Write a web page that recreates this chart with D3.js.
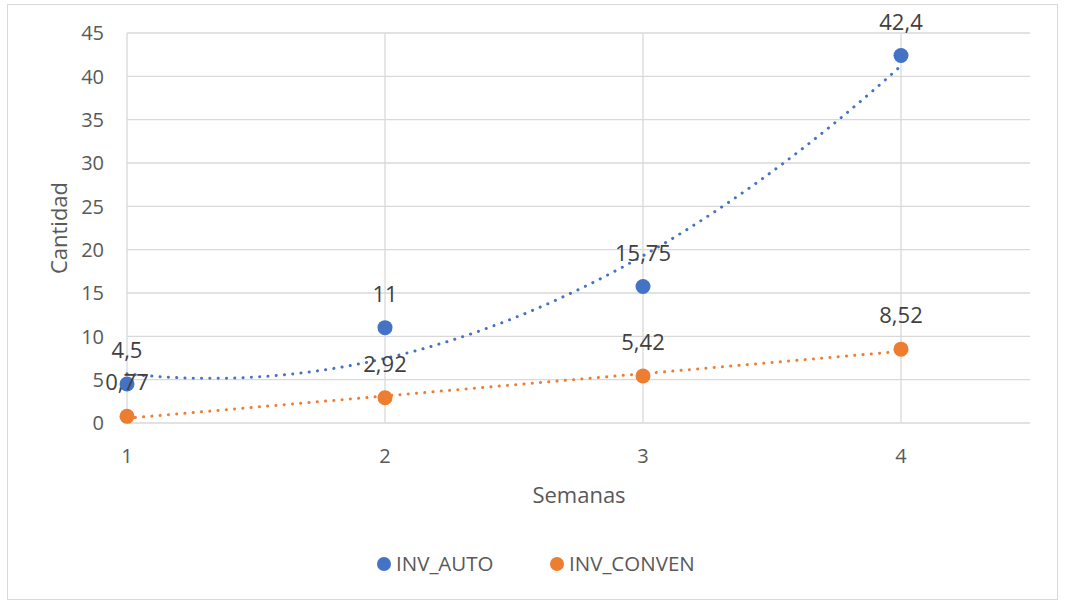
<!DOCTYPE html>
<html>
<head>
<meta charset="utf-8">
<script src="https://cdn.jsdelivr.net/npm/d3@7"></script>
<style>
  body { margin: 0; background: #fff; }
  svg text { font-family: "Open Sans", "Noto Sans", sans-serif; }
</style>
</head>
<body>
<div id="chart"></div>
<script>
const semanas = [1, 2, 3, 4];
const invAuto = [4.5, 11, 15.75, 42.4];
const invConven = [0.77, 2.92, 5.42, 8.52];
const seriesNames = ["INV_AUTO", "INV_CONVEN"];
const yTicks = [0, 5, 10, 15, 20, 25, 30, 35, 40, 45];
const xTicks = [1, 2, 3, 4];

const W = 1065, H = 601;
const margin = {top: 33, right: 35, bottom: 178, left: 127};

const svg = d3.select("#chart").append("svg")
    .attr("width", W)
    .attr("height", H);

// chart border
svg.append("rect")
    .attr("x", 7.5).attr("y", 4.5)
    .attr("width", 1050).attr("height", 595)
    .attr("fill", "#fff")
    .attr("stroke", "#d9d9d9");

const x = d3.scaleLinear().domain([1, 4.5]).range([margin.left, W - margin.right]);
const y = d3.scaleLinear().domain([0, 45]).range([H - margin.bottom, margin.top]);

const g = svg.append("g");

// horizontal gridlines
g.selectAll(".hgrid")
    .data(yTicks)
    .enter().append("line")
    .attr("x1", x(1)).attr("x2", x(4.5))
    .attr("y1", d => y(d)).attr("y2", d => y(d))
    .attr("stroke", "#d9d9d9")
    .attr("stroke-width", 1.3);

// vertical gridlines
g.selectAll(".vgrid")
    .data(xTicks)
    .enter().append("line")
    .attr("x1", d => x(d)).attr("x2", d => x(d))
    .attr("y1", y(0)).attr("y2", y(45))
    .attr("stroke", "#d9d9d9")
    .attr("stroke-width", 1.3);

// tick labels
g.selectAll(".ylab")
    .data(yTicks)
    .enter().append("text")
    .attr("x", 104)
    .attr("y", d => y(d))
    .attr("dy", "0.36em")
    .attr("text-anchor", "end")
    .attr("font-size", 20)
    .attr("fill", "#595959")
    .text(d => d);

g.selectAll(".xlab")
    .data(xTicks)
    .enter().append("text")
    .attr("x", d => x(d))
    .attr("y", 463)
    .attr("text-anchor", "middle")
    .attr("font-size", 20)
    .attr("fill", "#595959")
    .text(d => d);

// axis titles
svg.append("text")
    .attr("x", 579).attr("y", 503)
    .attr("text-anchor", "middle")
    .attr("font-size", 22)
    .attr("fill", "#595959")
    .text("Semanas");

svg.append("text")
    .attr("transform", "translate(67,228) rotate(-90)")
    .attr("text-anchor", "middle")
    .attr("font-size", 22)
    .attr("fill", "#595959")
    .text("Cantidad");

// least squares polynomial fit
function polyFit(xs, ys, order) {
  const n = order + 1;
  const A = [];
  for (let i = 0; i < n; i++) {
    A.push([]);
    for (let j = 0; j < n; j++) A[i].push(d3.sum(xs, xv => Math.pow(xv, i + j)));
    A[i].push(d3.sum(xs, (xv, k) => Math.pow(xv, i) * ys[k]));
  }
  for (let i = 0; i < n; i++) {
    for (let k = i + 1; k < n; k++) {
      const f = A[k][i] / A[i][i];
      for (let j = i; j <= n; j++) A[k][j] -= f * A[i][j];
    }
  }
  const c = new Array(n).fill(0);
  for (let i = n - 1; i >= 0; i--) {
    let s = A[i][n];
    for (let j = i + 1; j < n; j++) s -= A[i][j] * c[j];
    c[i] = s / A[i][i];
  }
  return xv => c.reduce((acc, ci, i) => acc + ci * Math.pow(xv, i), 0);
}

const series = [
  {name: seriesNames[0], values: invAuto, color: "#4472C4", order: 2},
  {name: seriesNames[1], values: invConven, color: "#ED7D31", order: 1}
];

const line = d3.line().x(d => x(d[0])).y(d => y(d[1])).curve(d3.curveLinear);

series.forEach(s => {
  const f = polyFit(semanas, s.values, s.order);
  const pts = d3.range(0, 101).map(i => {
    const xv = 1 + 3 * i / 100;
    return [xv, f(xv)];
  });
  g.append("path")
    .datum(pts)
    .attr("d", line)
    .attr("fill", "none")
    .attr("stroke", s.color)
    .attr("stroke-width", 3)
    .attr("stroke-linecap", "round")
    .attr("stroke-dasharray", "0.1 8.2");
});

series.forEach(s => {
  g.selectAll(null)
    .data(s.values)
    .enter().append("circle")
    .attr("cx", (d, i) => x(semanas[i]))
    .attr("cy", d => y(d))
    .attr("r", 7.5)
    .attr("fill", s.color);
});

series.forEach(s => {
  g.selectAll(null)
    .data(s.values)
    .enter().append("text")
    .attr("x", (d, i) => x(semanas[i]))
    .attr("y", d => y(d) - 26)
    .attr("text-anchor", "middle")
    .attr("font-size", 22)
    .attr("fill", "#404040")
    .text(d => String(d).replace(".", ","));
});

// legend
const legend = svg.append("g");
const legX = [384, 557];
series.forEach((s, i) => {
  legend.append("circle")
    .attr("cx", legX[i]).attr("cy", 564)
    .attr("r", 7)
    .attr("fill", s.color);
  legend.append("text")
    .attr("x", legX[i] + 12).attr("y", 564)
    .attr("dy", "0.36em")
    .attr("font-size", 20.5)
    .attr("fill", "#595959")
    .text(s.name);
});
</script>
</body>
</html>
